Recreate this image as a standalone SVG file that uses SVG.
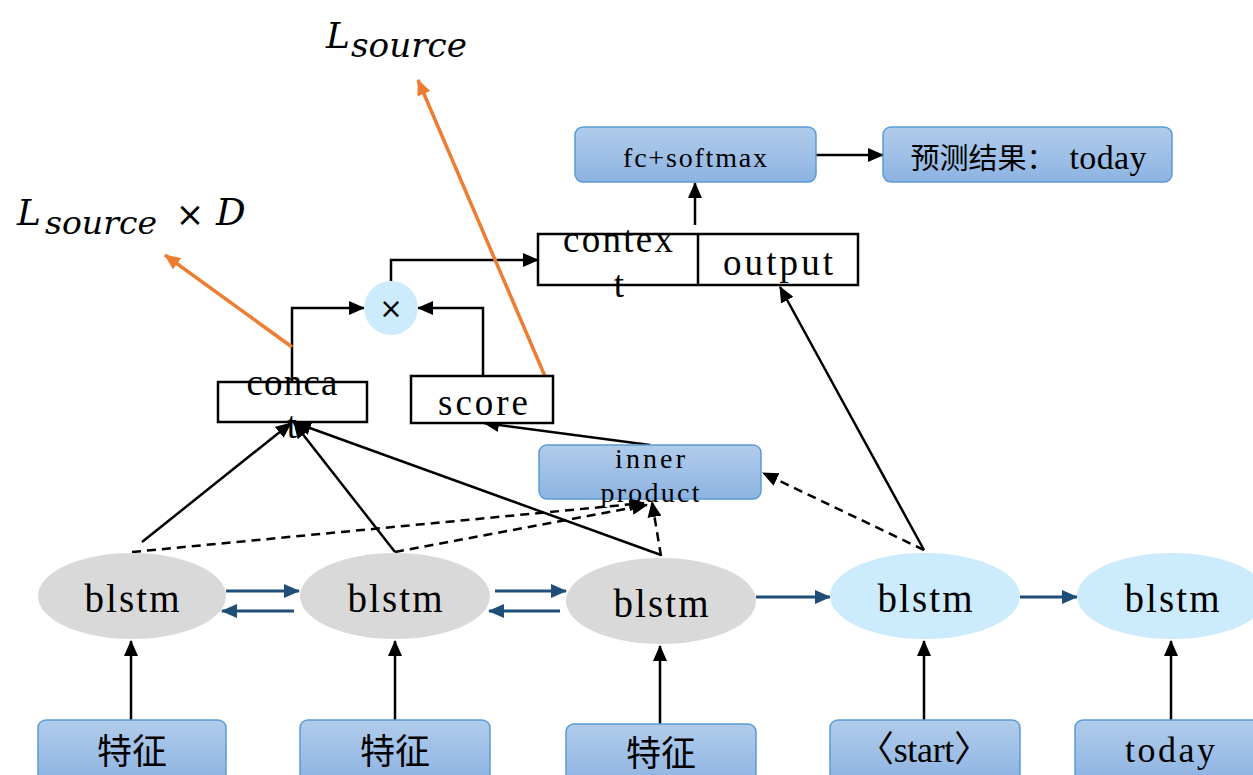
<svg xmlns="http://www.w3.org/2000/svg" width="1253" height="775" viewBox="0 0 1253 775">
<defs>
<linearGradient id="bg" x1="0" y1="0" x2="0" y2="1">
<stop offset="0" stop-color="#B1CCEB"/>
<stop offset="1" stop-color="#8DB3E2"/>
</linearGradient>
<marker id="ak" markerUnits="userSpaceOnUse" markerWidth="16" markerHeight="14" refX="15" refY="7" orient="auto"><path d="M0,0 L16,7 L0,14 z" fill="#000"/></marker>
<marker id="ab" markerUnits="userSpaceOnUse" markerWidth="16" markerHeight="14" refX="15" refY="7" orient="auto"><path d="M0,0 L16,7 L0,14 z" fill="#1F4E79"/></marker>
<marker id="ao" markerUnits="userSpaceOnUse" markerWidth="16" markerHeight="14" refX="15" refY="7" orient="auto"><path d="M0,0 L16,7 L0,14 z" fill="#ED7D31"/></marker>
</defs>
<style>
.box{fill:url(#bg);stroke:#5B9BD5;stroke-width:1.5}
.wbox{fill:#fff;stroke:#000;stroke-width:2.5}
.gray{fill:#D9D9D9}
.lb{fill:#CCEBFC}
.t{font-family:"Liberation Serif","Noto Sans CJK SC",serif;fill:#000;text-anchor:middle}
.cj{font-family:"Noto Sans CJK SC",sans-serif;fill:#000;text-anchor:middle}
.m{font-family:"DejaVu Serif","Liberation Serif",serif;font-style:italic;fill:#000}
.k{fill:none;stroke:#000;stroke-width:2.5}
.kd{fill:none;stroke:#000;stroke-width:2.5;stroke-dasharray:9,6}
.bl{fill:none;stroke:#1F4E79;stroke-width:3}
.or{fill:none;stroke:#ED7D31;stroke-width:3.5}
</style>

<g id="connectors">
<line class="k" x1="131" y1="720" x2="131" y2="641" marker-end="url(#ak)"/>
<line class="k" x1="395" y1="720" x2="395" y2="641" marker-end="url(#ak)"/>
<line class="k" x1="660" y1="724" x2="660" y2="646" marker-end="url(#ak)"/>
<line class="k" x1="924" y1="720" x2="924" y2="641" marker-end="url(#ak)"/>
<line class="k" x1="1171" y1="720" x2="1171" y2="641" marker-end="url(#ak)"/>
<line class="bl" x1="226" y1="591" x2="299" y2="591" marker-end="url(#ab)"/>
<line class="bl" x1="294" y1="611" x2="222" y2="611" marker-end="url(#ab)"/>
<line class="bl" x1="495" y1="591" x2="566" y2="591" marker-end="url(#ab)"/>
<line class="bl" x1="560" y1="611" x2="489" y2="611" marker-end="url(#ab)"/>
<line class="bl" x1="756" y1="597" x2="830" y2="597" marker-end="url(#ab)"/>
<line class="bl" x1="1020" y1="597" x2="1077" y2="597" marker-end="url(#ab)"/>
<line class="k" x1="142" y1="542" x2="291" y2="423" marker-end="url(#ak)"/>
<line class="k" x1="395" y1="552" x2="294" y2="423" marker-end="url(#ak)"/>
<line class="k" x1="661" y1="555" x2="296" y2="423" marker-end="url(#ak)"/>
<line class="kd" x1="132" y1="552" x2="644" y2="503" marker-end="url(#ak)"/>
<line class="kd" x1="395" y1="552" x2="647" y2="505" marker-end="url(#ak)"/>
<line class="kd" x1="661" y1="556" x2="652" y2="502" marker-end="url(#ak)"/>
<line class="kd" x1="924" y1="550" x2="763" y2="473" marker-end="url(#ak)"/>
<line class="k" x1="924" y1="550" x2="780" y2="287" marker-end="url(#ak)"/>
<line class="k" x1="650" y1="445" x2="484" y2="423" marker-end="url(#ak)"/>
<polyline class="k" points="292,382 292,308 364,308" marker-end="url(#ak)"/>
<polyline class="k" points="483,376 483,308 418,308" marker-end="url(#ak)"/>
<polyline class="k" points="391,281 391,260 538,260" marker-end="url(#ak)"/>
<line class="k" x1="695" y1="225" x2="695" y2="183" marker-end="url(#ak)"/>
<line class="k" x1="816" y1="155" x2="883" y2="155" marker-end="url(#ak)"/>
<line class="or" x1="292" y1="347" x2="165" y2="255" marker-end="url(#ao)"/>
<line class="or" x1="553" y1="395" x2="418" y2="80" marker-end="url(#ao)"/>
</g>

<g id="label-lsource">
<text class="m" x="326" y="48" font-size="36">L</text>
<text class="m" x="351" y="57" font-size="33" textLength="116" lengthAdjust="spacingAndGlyphs">source</text>
</g>
<g id="label-lsource-d">
<text class="m" x="17" y="225" font-size="36">L</text>
<text class="m" x="45" y="234" font-size="31" textLength="112" lengthAdjust="spacingAndGlyphs">source</text>
<text x="190" y="226" font-size="34" font-family="DejaVu Sans,sans-serif" text-anchor="middle">×</text>
<text class="m" x="216" y="225" font-size="37">D</text>
</g>

<g id="fc">
<rect class="box" x="575" y="127" width="241" height="55" rx="8"/>
<text class="t" x="695" y="167" font-size="28" textLength="144" lengthAdjust="spacing">fc+softmax</text>
</g>
<g id="result">
<rect class="box" x="883" y="127" width="289" height="55" rx="8"/>
<text class="cj" x="983" y="169" font-size="29">预测结果：</text>
<text class="t" x="1108" y="169" font-size="34" textLength="77" lengthAdjust="spacing">today</text>
</g>
<g id="context-output">
<rect class="wbox" x="538" y="234" width="320" height="51"/>
<line class="k" x1="698" y1="234" x2="698" y2="285"/>
<text class="t" x="618" y="252" font-size="37" textLength="110" lengthAdjust="spacing">contex</text>
<text class="t" x="619" y="297" font-size="37">t</text>
<text class="t" x="778" y="275" font-size="37" textLength="110" lengthAdjust="spacing">output</text>
</g>
<g id="mult">
<circle class="lb" cx="391" cy="308" r="27"/>
<text x="391" y="318" font-size="28" font-family="DejaVu Sans,sans-serif" text-anchor="middle">×</text>
</g>
<g id="concat">
<rect class="wbox" x="218" y="382" width="149" height="40"/>
<text class="t" x="292" y="395" font-size="37" textLength="91" lengthAdjust="spacing">conca</text>
<text class="t" x="292" y="438" font-size="37">t</text>
</g>
<g id="score">
<rect class="wbox" x="411" y="376" width="142" height="47"/>
<text class="t" x="483" y="415" font-size="37" textLength="90" lengthAdjust="spacing">score</text>
</g>
<g id="inner">
<rect class="box" x="539" y="445" width="222" height="54" rx="8"/>
<text class="t" x="650" y="468" font-size="28" textLength="70" lengthAdjust="spacing">inner</text>
<text class="t" x="650" y="502" font-size="28" textLength="99" lengthAdjust="spacing">product</text>
</g>

<g id="blstm1"><ellipse class="gray" cx="132" cy="596" rx="94" ry="43"/><text class="t" x="132" y="612" font-size="39" textLength="95" lengthAdjust="spacing">blstm</text></g>
<g id="blstm2"><ellipse class="gray" cx="395" cy="596" rx="95" ry="43"/><text class="t" x="395" y="612" font-size="39" textLength="95" lengthAdjust="spacing">blstm</text></g>
<g id="blstm3"><ellipse class="gray" cx="661" cy="601" rx="95" ry="43"/><text class="t" x="661" y="617" font-size="39" textLength="95" lengthAdjust="spacing">blstm</text></g>
<g id="blstm4"><ellipse class="lb" cx="925" cy="596" rx="95" ry="43"/><text class="t" x="925" y="612" font-size="39" textLength="95" lengthAdjust="spacing">blstm</text></g>
<g id="blstm5"><ellipse class="lb" cx="1172" cy="596" rx="95" ry="43"/><text class="t" x="1172" y="612" font-size="39" textLength="95" lengthAdjust="spacing">blstm</text></g>

<g id="in1"><rect class="box" x="38" y="720" width="188" height="62" rx="8"/><text class="cj" x="132" y="764" font-size="35">特征</text></g>
<g id="in2"><rect class="box" x="300" y="720" width="190" height="62" rx="8"/><text class="cj" x="395" y="764" font-size="35">特征</text></g>
<g id="in3"><rect class="box" x="566" y="724" width="190" height="62" rx="8"/><text class="cj" x="661" y="766" font-size="35">特征</text></g>
<g id="in4"><rect class="box" x="830" y="720" width="190" height="62" rx="8"/><text class="t" x="924" y="762" font-size="36" textLength="132" lengthAdjust="spacing">〈start〉</text></g>
<g id="in5"><rect class="box" x="1075" y="720" width="190" height="62" rx="8"/><text class="t" x="1170" y="762" font-size="36" textLength="90" lengthAdjust="spacing">today</text></g>
</svg>
